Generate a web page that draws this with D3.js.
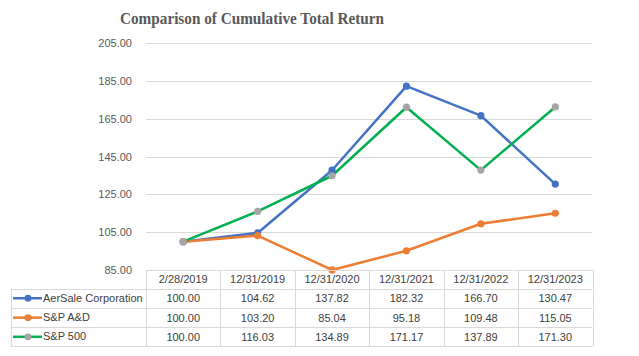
<!DOCTYPE html>
<html><head><meta charset="utf-8">
<script src="https://cdn.jsdelivr.net/npm/d3@7"></script>
<style>body{margin:0;background:#fff}svg{display:block}</style>
</head><body>
<svg id="c" width="639" height="356"></svg>
<script>
const categories = ["2/28/2019","12/31/2019","12/31/2020","12/31/2021","12/31/2022","12/31/2023"];
const aersale = [100.00,104.62,137.82,182.32,166.70,130.47];
const spad = [100.00,103.20,85.04,95.18,109.48,115.05];
const sp500 = [100.00,116.03,134.89,171.17,137.89,171.30];
const yTicks = [85,105,125,145,165,185,205];
const seriesNames = ["AerSale Corporation","S&P A&D","S&P 500"];

(function(){
const series = [
  {name: seriesNames[0], values: aersale, line:"#4472C4", marker:"#4472C4"},
  {name: seriesNames[1], values: spad, line:"#ED7D31", marker:"#ED7D31"},
  {name: seriesNames[2], values: sp500, line:"#00B050", marker:"#A5A5A5"}
];

const svg = d3.select("#c");
const pLeft = 146, pRight = 592.5, pTop = 43.3, pBottom = 270;
const x = d3.scaleBand().domain(categories).range([pLeft, pRight]);
const y = d3.scaleLinear().domain([85,205]).range([pBottom, pTop]);

svg.append("text").attr("x",120).attr("y",23.5)
  .attr("textLength",264).attr("lengthAdjust","spacingAndGlyphs")
  .attr("font-family","Liberation Serif, Times New Roman, serif").attr("font-weight","bold")
  .attr("font-size",17.5).attr("fill","#595959").text("Comparison of Cumulative Total Return");

svg.append("g").selectAll("line").data(yTicks.filter(d=>d>85)).join("line")
  .attr("x1",pLeft).attr("x2",pRight).attr("y1",d=>Math.round(y(d))+0.5).attr("y2",d=>Math.round(y(d))+0.5)
  .attr("stroke","#D9D9D9").attr("stroke-width",1);

const yAxis = d3.axisLeft(y).tickValues(yTicks).tickFormat(d3.format(".2f")).tickSize(0).tickPadding(14);
const ya = svg.append("g").attr("transform",`translate(${pLeft},0)`).call(yAxis);
ya.select(".domain").remove();
ya.selectAll("text").attr("font-family","Liberation Sans, Arial, sans-serif").attr("font-size",11).attr("fill","#595959");

const line = d3.line().x((d,i)=>x(categories[i])+x.bandwidth()/2).y(d=>y(d));
series.forEach(s=>{
  svg.append("path").datum(s.values).attr("d",line).attr("fill","none")
    .attr("stroke",s.line).attr("stroke-width",2.5).attr("stroke-linejoin","round");
});
series.forEach(s=>{
  svg.append("g").selectAll("circle").data(s.values).join("circle")
    .attr("cx",(d,i)=>x(categories[i])+x.bandwidth()/2).attr("cy",d=>y(d)).attr("r",3.6)
    .attr("fill",s.marker);
});

const tLeft = 10.7;
const rowEdges = [270, 288.5, 308, 327.3, 346.3];
const g = svg.append("g");
const border = "#D9D9D9";
g.append("line").attr("x1",pLeft).attr("x2",pRight).attr("y1",rowEdges[0]+0.5).attr("y2",rowEdges[0]+0.5).attr("stroke",border);
rowEdges.slice(1).forEach(r=>{
  g.append("line").attr("x1",tLeft).attr("x2",pRight).attr("y1",Math.round(r)+0.5).attr("y2",Math.round(r)+0.5).attr("stroke",border);
});
const colEdges = categories.map(c=>x(c)).concat([pRight]);
colEdges.forEach(cx=>{
  g.append("line").attr("x1",Math.round(cx)+0.5).attr("x2",Math.round(cx)+0.5).attr("y1",rowEdges[0]).attr("y2",rowEdges[4]).attr("stroke",border);
});
g.append("line").attr("x1",Math.round(tLeft)+0.5).attr("x2",Math.round(tLeft)+0.5).attr("y1",rowEdges[1]).attr("y2",rowEdges[4]).attr("stroke",border);

const tf = "Liberation Sans, Arial, sans-serif";
g.selectAll("text.h").data(categories).join("text").attr("class","h")
  .attr("x",d=>x(d)+x.bandwidth()/2).attr("y",(rowEdges[0]+rowEdges[1])/2+4)
  .attr("text-anchor","middle").attr("font-family",tf).attr("font-size",11).attr("fill","#404040").text(d=>d);

series.forEach((s,si)=>{
  const cy = (rowEdges[si+1]+rowEdges[si+2])/2;
  g.selectAll(null).data(s.values).join("text")
    .attr("x",(d,i)=>x(categories[i])+x.bandwidth()/2).attr("y",cy+4)
    .attr("text-anchor","middle").attr("font-family",tf).attr("font-size",11).attr("fill","#404040")
    .text(d=>d3.format(".2f")(d));
  g.append("line").attr("x1",13).attr("x2",42).attr("y1",cy).attr("y2",cy).attr("stroke",s.line).attr("stroke-width",2.5);
  g.append("circle").attr("cx",28).attr("cy",cy).attr("r",3.4).attr("fill",s.marker);
  g.append("text").attr("x",43).attr("y",cy+3.5).attr("font-family",tf).attr("font-size",11).attr("fill","#404040").text(s.name);
});
})();
</script>
</body></html>
